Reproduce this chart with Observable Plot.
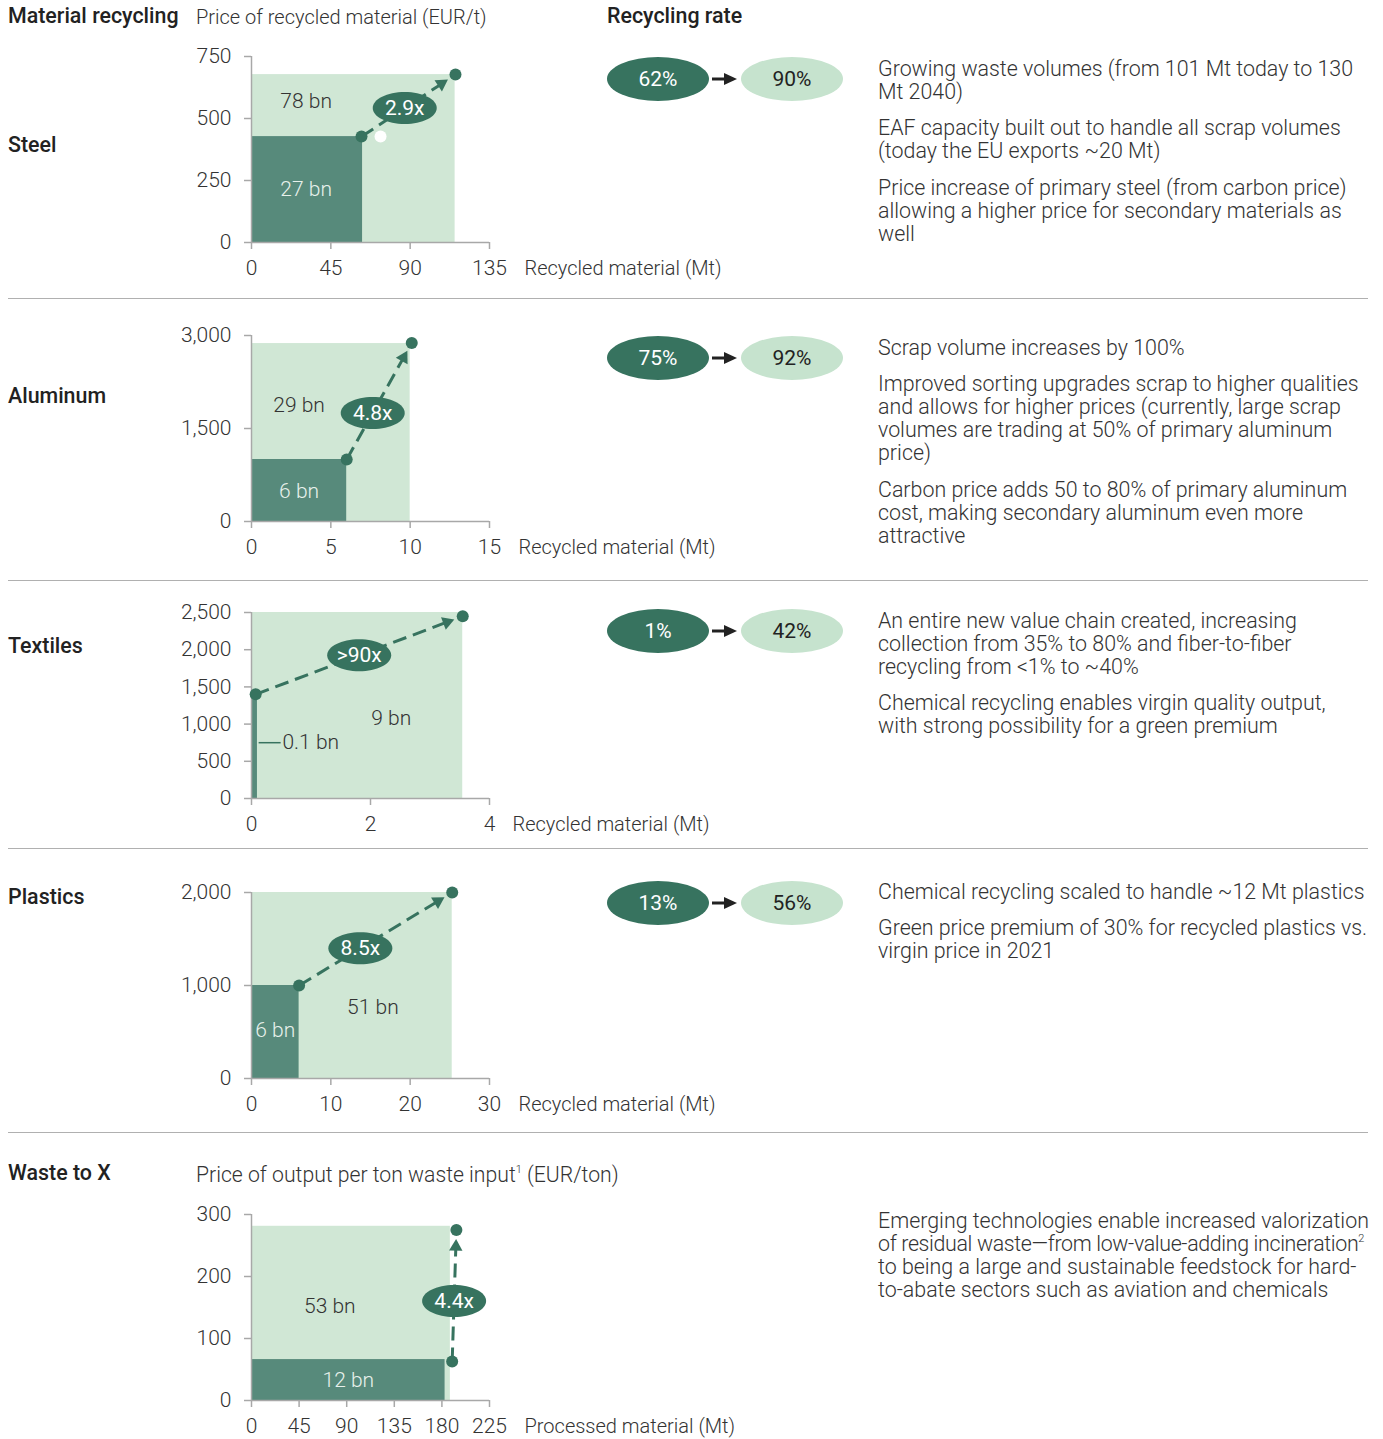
<!DOCTYPE html>
<html>
<head>
<meta charset="utf-8">
<script src="https://cdn.jsdelivr.net/npm/d3@7"></script>
<script src="https://cdn.jsdelivr.net/npm/@observablehq/plot@0.6"></script>
<style>
  body { margin: 0; background: #fff; font-family: Roboto, "Noto Sans", sans-serif; color: #333; }
  #page { position: relative; width: 1383px; height: 1439px; overflow: hidden; background: #fff; }
  .abs { position: absolute; white-space: nowrap; }
  .head { font-weight: 500; font-size: 21.4px; line-height: 24px; color: #222; }
  .sub { font-weight: 300; font-size: 20px; line-height: 24px; color: #333; }
  .note { font-weight: 300; font-size: 21.4px; line-height: 23px; color: #333; }
  .note div { margin-bottom: 13.5px; }
  .fn { font-size: 11px; vertical-align: 9px; line-height: 0; }
  .tight { letter-spacing: -0.35px; }
  .sep { position: absolute; left: 8px; width: 1360px; height: 0; border-top: 1px solid #b0b0b0; }
  .pill { position: absolute; width: 102px; height: 44px; border-radius: 50%;
          display: flex; align-items: center; justify-content: center;
          font-size: 21px; font-weight: 400; }
  .chart { position: absolute; }
</style>
</head>
<body>
<div id="page"></div>
<script>
// ---- data -------------------------------------------------------------
const materials = ["Steel", "Aluminum", "Textiles", "Plastics", "Waste to X"];

// today: recycled volume (Mt) and price (EUR/t)
const volumeToday = [63, 6, 0.1, 6, 183];
const priceToday = [427, 1000, 1400, 1000, 66];
// 2040: recycled volume (Mt) and price (EUR/t)
const volume2040 = [115.5, 10, 3.55, 25.3, 188];
const price2040 = [677, 2870, 2500, 2000, 281];

// start and end points of the growth arrow [volume, price]
const trendStart = [[62.4, 427], [6, 1000], [0.07, 1400], [6, 1000], [189.7, 63]];
const trendEnd = [[115.7, 677], [10.1, 2880], [3.55, 2450], [25.3, 2000], [193.7, 275]];

const valueToday = ["27 bn", "6 bn", "0.1 bn", "6 bn", "12 bn"];
const value2040 = ["78 bn", "29 bn", "9 bn", "51 bn", "53 bn"];
const growth = ["2.9x", "4.8x", ">90x", "8.5x", "4.4x"];

const rateToday = ["62%", "75%", "1%", "13%"];
const rate2040 = ["90%", "92%", "42%", "56%"];

const xTicks = [[0, 45, 90, 135], [0, 5, 10, 15], [0, 2, 4], [0, 10, 20, 30], [0, 45, 90, 135, 180, 225]];
const yTicks = [[0, 250, 500, 750], [0, 1500, 3000], [0, 500, 1000, 1500, 2000, 2500], [0, 1000, 2000], [0, 100, 200, 300]];
const xTitles = ["Recycled material (Mt)", "Recycled material (Mt)", "Recycled material (Mt)", "Recycled material (Mt)", "Processed material (Mt)"];

const notes = [
  [["Growing waste volumes (from 101 Mt today to 130", "Mt 2040)"],
   ["EAF capacity built out to handle all scrap volumes", "(today the EU exports ~20 Mt)"],
   ["Price increase of primary steel (from carbon price)", "allowing a higher price for secondary materials as", "well"]],
  [["Scrap volume increases by 100%"],
   ["Improved sorting upgrades scrap to higher qualities", "and allows for higher prices (currently, large scrap", "volumes are trading at 50% of primary aluminum", "price)"],
   ["Carbon price adds 50 to 80% of primary aluminum", "cost, making secondary aluminum even more", "attractive"]],
  [["An entire new value chain created, increasing", "collection from 35% to 80% and fiber-to-fiber", "recycling from <1% to ~40%"],
   ["Chemical recycling enables virgin quality output,", "with strong possibility for a green premium"]],
  [["Chemical recycling scaled to handle ~12 Mt plastics"],
   ["Green price premium of 30% for recycled plastics vs.", "virgin price in 2021"]],
  [["Emerging technologies enable increased valorization", "of residual waste\u2014from low-value-adding incineration\u00b2", "to being a large and sustainable feedstock for hard-", "to-abate sectors such as aviation and chemicals"]]
];

// ---- layout -----------------------------------------------------------
const frameTop = [56, 335, 612, 892, 1214];
const rowLabelY = [145, 396, 646, 897, 1173];
const separatorY = [298, 580, 848, 1132];
const noteY = [68, 347, 620, 891, 1220];
const pillY = [79, 358, 631, 903];
// where the value labels sit, in data units [volume, price]
const labelLight = [[31, 568], [3, 1880], [2.35, 1075], [15.3, 763], [74, 152]];
const labelDark = [[31, 215], [3, 490], [0.52, 750], [3, 516], [91.5, 33]];
const growthAt = [0.46, 0.4, 0.5, 0.4, 0.46];

const F = {w: 238, h: 186, ml: 81, mt: 20, mr: 300, mb: 40, left: 170};
const C = {
  pill: "#37735f",
  pillLight: "#c6e3ce",
  rectDark: "#578a7b",
  rectLight: "#d0e7d5",
  axis: "#a8a8a8",
  text: "#333",
  textOnDark: "#e8f1ec"
};

const page = document.getElementById("page");
function add(html) { page.insertAdjacentHTML("beforeend", html); }
const fmt = d => d.toLocaleString("en-US");
// escape a note line and set footnote markers as small superscripts
function noteLine(l) {
  const html = l.replace(/</g, "&lt;")
    .replace(/\u00b9/g, '<span class="fn">1</span>')
    .replace(/\u00b2/g, '<span class="fn">2</span>');
  return l.includes("\u2014") ? `<span class="tight">${html}</span>` : html;
}

// ellipse symbol for the growth-factor badges
function ellipse(rx, ry) {
  const k = 0.5523;
  return {
    draw(ctx) {
      ctx.moveTo(rx, 0);
      ctx.bezierCurveTo(rx, ry * k, rx * k, ry, 0, ry);
      ctx.bezierCurveTo(-rx * k, ry, -rx, ry * k, -rx, 0);
      ctx.bezierCurveTo(-rx, -ry * k, -rx * k, -ry, 0, -ry);
      ctx.bezierCurveTo(rx * k, -ry, rx, -ry * k, rx, 0);
      ctx.closePath();
    }
  };
}

function panel(i) {
  const xs = xTicks[i], ys = yTicks[i];
  const xMax = xs[xs.length - 1], yMax = ys[ys.length - 1];
  // pixel <-> data helpers for the frame defined by F
  const px = v => F.ml + v / xMax * F.w;
  const py = v => F.mt + F.h - v / yMax * F.h;
  const ix = p => (p - F.ml) / F.w * xMax;
  const iy = p => (F.mt + F.h - p) / F.h * yMax;

  const [ax, ay] = trendStart[i], [bx, by] = trendEnd[i];
  const p1 = [px(ax), py(ay)], p2 = [px(bx), py(by)];
  const len = Math.hypot(p2[0] - p1[0], p2[1] - p1[1]);
  const u = [(p2[0] - p1[0]) / len, (p2[1] - p1[1]) / len];
  const headR = 5;
  const hy = Math.sqrt(headR * headR * Math.PI / (3 * Math.sqrt(3)));
  const tip = [p2[0] - u[0] * 9, p2[1] - u[1] * 9];
  const headC = [tip[0] - u[0] * 2 * hy, tip[1] - u[1] * 2 * hy];
  const lineEnd = [tip[0] - u[0] * 2.6 * hy, tip[1] - u[1] * 2.6 * hy];
  const angle = Math.atan2(u[0], -u[1]) * 180 / Math.PI;
  const t = growthAt[i];
  const badge = {x: ax + (bx - ax) * t, y: ay + (by - ay) * t};

  const lastTick = fmt(xs[xs.length - 1]);
  const titleDx = 17 + 6 * lastTick.length;

  const marks = [
    Plot.rect([{x1: 0, x2: volume2040[i], y1: 0, y2: price2040[i]}],
      {x1: "x1", x2: "x2", y1: "y1", y2: "y2", fill: C.rectLight}),
    Plot.rect([{x1: 0, x2: volumeToday[i], y1: 0, y2: priceToday[i]}],
      {x1: "x1", x2: "x2", y1: "y1", y2: "y2", fill: C.rectDark}),
    Plot.ruleX([0], {stroke: C.axis, strokeWidth: 1.5}),
    Plot.ruleY([0], {stroke: C.axis, strokeWidth: 1.5}),
    Plot.axisX({ticks: xs, tickFormat: fmt, tickSize: 7, tickPadding: 11, stroke: C.axis, strokeWidth: 1.5, fill: C.text, fontSize: 21, label: null}),
    Plot.axisY({ticks: ys, tickFormat: fmt, tickSize: 7, tickPadding: 13, stroke: C.axis, strokeWidth: 1.5, fill: C.text, fontSize: 21, label: null}),
    Plot.text([{x: xMax, y: 0, t: xTitles[i]}],
      {x: "x", y: "y", text: "t", textAnchor: "start", dx: titleDx, dy: 26, fill: C.text}),
    Plot.text([{x: labelLight[i][0], y: labelLight[i][1], t: value2040[i]}],
      {x: "x", y: "y", text: "t", fill: C.text, fontSize: 21})
  ];

  if (i === 2) {
    // thin bar: label sits outside with a short leader line
    marks.push(
      Plot.link([{x1: volumeToday[i] * 1.2, x2: labelDark[i][0] - 0.03, y: labelDark[i][1]}],
        {x1: "x1", x2: "x2", y1: "y", y2: "y", stroke: C.pill, strokeWidth: 1.5}),
      Plot.text([{x: labelDark[i][0], y: labelDark[i][1], t: valueToday[i]}],
        {x: "x", y: "y", text: "t", textAnchor: "start", fill: C.text, fontSize: 21})
    );
  } else {
    marks.push(
      Plot.text([{x: labelDark[i][0], y: labelDark[i][1], t: valueToday[i]}],
        {x: "x", y: "y", text: "t", fill: C.textOnDark, fontSize: 21})
    );
  }

  if (i === 0) {
    marks.push(Plot.dot([{x: 73.2, y: 427}], {x: "x", y: "y", r: 6, fill: "#fff"}));
  }

  marks.push(
    Plot.link([{x1: ax, y1: ay, x2: ix(lineEnd[0]), y2: iy(lineEnd[1])}],
      {x1: "x1", y1: "y1", x2: "x2", y2: "y2", stroke: C.pill, strokeWidth: 3, strokeDasharray: "14,7"}),
    Plot.dot([{x: ix(headC[0]), y: iy(headC[1])}],
      {x: "x", y: "y", symbol: "triangle", r: headR, rotate: angle, fill: C.pill}),
    Plot.dot([trendStart[i], trendEnd[i]], {x: d => d[0], y: d => d[1], r: 6, fill: C.pill}),
    Plot.dot([badge], {x: "x", y: "y", r: 1, symbol: ellipse(32, 16), fill: C.pill}),
    Plot.text([badge], {x: "x", y: "y", text: () => growth[i], fill: "#fff", fontWeight: 400, fontSize: 21})
  );

  return Plot.plot({
    width: F.ml + F.w + F.mr,
    height: F.mt + F.h + F.mb,
    marginLeft: F.ml, marginRight: F.mr, marginTop: F.mt, marginBottom: F.mb,
    x: {domain: [0, xMax]},
    y: {domain: [0, yMax]},
    style: {fontFamily: "Roboto, 'Noto Sans', sans-serif", fontSize: "20px", fontWeight: "300", color: C.text, background: "transparent", overflow: "visible"},
    marks
  });
}

// ---- headers ------------------------------------------------------------
add(`<div class="abs head" style="left:8px;top:4px">Material recycling</div>`);
add(`<div class="abs sub" style="left:196px;top:5px">Price of recycled material (EUR/t)</div>`);
add(`<div class="abs head" style="left:607px;top:4px">Recycling rate</div>`);
add(`<div class="abs sub" style="left:196px;top:1163px;font-size:21.2px">${noteLine("Price of output per ton waste input\u00b9 (EUR/ton)")}</div>`);

separatorY.forEach(y => add(`<div class="sep" style="top:${y}px"></div>`));

materials.forEach((m, i) => {
  add(`<div class="abs head" style="left:8px;top:${rowLabelY[i] - 12}px">${m}</div>`);

  const svg = panel(i);
  svg.classList.add("chart");
  svg.style.left = F.left + "px";
  svg.style.top = (frameTop[i] - F.mt) + "px";
  svg.style.position = "absolute";
  page.appendChild(svg);

  if (i < rateToday.length) {
    const y = pillY[i];
    add(`<div class="pill" style="left:607px;top:${y - 22}px;background:${C.pill};color:#fff">${rateToday[i]}</div>`);
    add(`<svg class="abs" style="left:710px;top:${y - 8}px" width="30" height="16">
           <line x1="2" y1="8" x2="16" y2="8" stroke="#222" stroke-width="3"/>
           <path d="M14,2 L27,8 L14,14 Z" fill="#222"/></svg>`);
    add(`<div class="pill" style="left:741px;top:${y - 22}px;background:${C.pillLight};color:#222">${rate2040[i]}</div>`);
  }

  const paras = notes[i].map(lines => `<div>${lines.map(noteLine).join("<br>")}</div>`).join("");
  add(`<div class="abs note" style="left:878px;top:${noteY[i] - 11.5}px">${paras}</div>`);
});
</script>
</body>
</html>
